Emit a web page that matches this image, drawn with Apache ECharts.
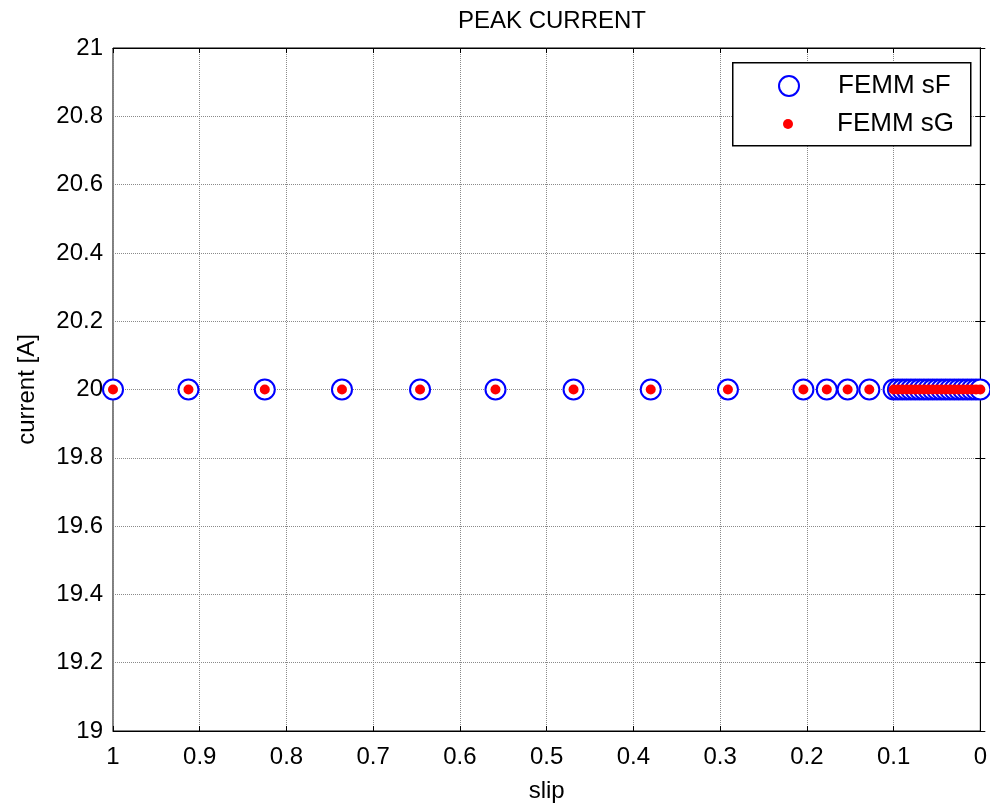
<!DOCTYPE html>
<html><head><meta charset="utf-8">
<script src="https://cdn.jsdelivr.net/npm/echarts@6/dist/echarts.min.js"></script>
<style>html,body{margin:0;padding:0;background:#fff}#c{width:990px;height:810px}</style>
</head><body><div id="c"></div>
<script>
const slip = [1, 0.913, 0.825, 0.736, 0.646, 0.559, 0.469, 0.38, 0.291, 0.204, 0.177, 0.153, 0.128,
  0.1, 0.095, 0.09, 0.085, 0.08, 0.075, 0.07, 0.065, 0.06, 0.055, 0.05, 0.045, 0.04, 0.035, 0.03,
  0.025, 0.02, 0.015, 0.01, 0.005, 0.0];
const currentF = [20, 20, 20, 20, 20, 20, 20, 20, 20, 20, 20, 20, 20,
  20, 20, 20, 20, 20, 20, 20, 20, 20, 20, 20, 20, 20, 20, 20, 20, 20, 20, 20, 20, 20];
const currentG = [20, 20, 20, 20, 20, 20, 20, 20, 20, 20, 20, 20, 20,
  20, 20, 20, 20, 20, 20, 20, 20, 20, 20, 20, 20, 20, 20, 20, 20, 20, 20, 20, 20, 20];
const xTicks = [0, 0.1, 0.2, 0.3, 0.4, 0.5, 0.6, 0.7, 0.8, 0.9, 1];
const yTicks = [19, 19.2, 19.4, 19.6, 19.8, 20, 20.2, 20.4, 20.6, 20.8, 21];

const F = 'Liberation Sans, Arial, sans-serif';
const chart = echarts.init(document.getElementById('c'), null, {renderer: 'canvas'});
const fmt = v => String(Math.round(v * 10) / 10);
const gridLine = {show: true, lineStyle: {color: '#8a8a8a', type: [1, 1], width: 1}};
chart.setOption({
  animation: false,
  backgroundColor: '#fff',
  title: {text: 'PEAK CURRENT', left: 547, top: 4, textAlign: 'center',
    textStyle: {fontFamily: F, fontSize: 24, fontWeight: 'normal', color: '#000'}},
  grid: {left: 113, right: 8, top: 48, bottom: 79, show: true, borderColor: '#000', borderWidth: 1},
  xAxis: [{
    type: 'value', min: 0, max: 1, interval: 0.1, inverse: true,
    name: 'slip', nameLocation: 'middle', nameGap: 48,
    nameTextStyle: {fontFamily: F, fontSize: 24, color: '#000'},
    axisLine: {show: true, lineStyle: {color: '#000'}},
    axisTick: {show: true, inside: true, length: 5, lineStyle: {color: '#000'}},
    axisLabel: {fontFamily: F, fontSize: 24, color: '#000', margin: 14, formatter: fmt},
    splitLine: gridLine
  }, {
    type: 'value', min: 0, max: 1, interval: 0.1, inverse: true, position: 'top',
    axisLine: {show: true, lineStyle: {color: '#000'}},
    axisTick: {show: true, inside: true, length: 5, lineStyle: {color: '#000'}},
    axisLabel: {show: false}, splitLine: {show: false}
  }],
  yAxis: [{
    type: 'value', min: 19, max: 21, interval: 0.2,
    name: 'current [A]', nameLocation: 'middle', nameGap: 74,
    nameTextStyle: {fontFamily: F, fontSize: 24, color: '#000'},
    axisLine: {show: true, lineStyle: {color: '#000'}},
    axisTick: {show: true, inside: true, length: 5, lineStyle: {color: '#000'}},
    axisLabel: {fontFamily: F, fontSize: 24, color: '#000', margin: 10, formatter: fmt},
    splitLine: gridLine
  }, {
    type: 'value', min: 19, max: 21, interval: 0.2, position: 'right',
    axisLine: {show: true, lineStyle: {color: '#000'}},
    axisTick: {show: true, inside: true, length: 5, lineStyle: {color: '#000'}},
    axisLabel: {show: false}, splitLine: {show: false}
  }],
  graphic: [{type: 'rect', left: 732, top: 62, shape: {width: 238, height: 83},
    style: {fill: '#fff', stroke: '#000', lineWidth: 1.5}, z: 90}],
  legend: [{
    data: [{name: 'FEMM sF', icon: 'emptyCircle'}], left: 773, top: 68, orient: 'vertical',
    itemWidth: 20, itemHeight: 20, z: 100,
    textStyle: {fontFamily: F, fontSize: 26, color: '#000', padding: [0, 0, 0, 34]}
  }, {
    data: [{name: 'FEMM sG', icon: 'circle'}], left: 778, top: 106, orient: 'vertical',
    itemWidth: 10, itemHeight: 10, z: 100,
    textStyle: {fontFamily: F, fontSize: 26, color: '#000', padding: [0, 0, 0, 39]}
  }],
  series: [{
    name: 'FEMM sF', type: 'scatter', symbol: 'emptyCircle', symbolSize: 20,
    itemStyle: {color: '#0000ff', borderColor: '#0000ff', borderWidth: 1, opacity: 1},
    data: slip.map((s, i) => [s, currentF[i]]), z: 3
  }, {
    name: 'FEMM sG', type: 'scatter', symbol: 'circle', symbolSize: 10,
    itemStyle: {color: '#ff0000', opacity: 1},
    data: slip.map((s, i) => [s, currentG[i]]), z: 4
  }]
});
</script></body></html>
